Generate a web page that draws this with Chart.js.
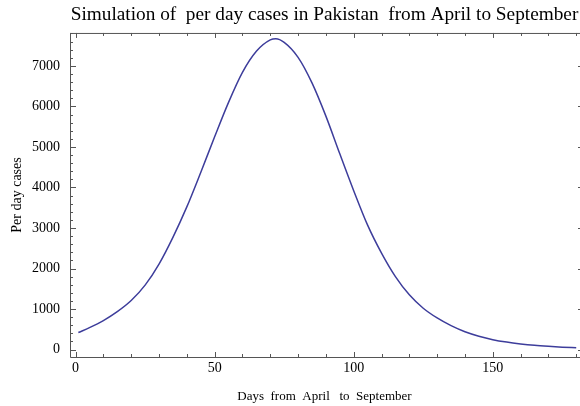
<!DOCTYPE html>
<html>
<head>
<meta charset="utf-8">
<script src="https://cdn.jsdelivr.net/npm/chart.js@4.4.0/dist/chart.umd.min.js"></script>
<style>
  html, body { margin: 0; padding: 0; background: #fff; }
  #wrap { width: 580px; height: 406px; }
</style>
</head>
<body>
<div id="wrap"><canvas id="chart" width="580" height="406"></canvas></div>
<script>
// values
const days = [1, 5, 10, 15, 20, 25, 30, 35, 40, 45, 50, 55, 60, 65, 70, 72, 75, 80, 85, 90,
  95, 100, 105, 110, 115, 120, 125, 130, 135, 140, 145, 150, 155, 160, 165, 170, 175, 180];
const cases = [420, 540, 715, 935, 1210, 1590, 2110, 2770, 3520, 4370, 5250, 6100, 6840, 7360, 7640, 7670, 7580, 7210, 6580, 5760,
  4830, 3920, 3070, 2380, 1800, 1350, 1020, 780, 590, 440, 330, 245, 185, 140, 105, 80, 60, 44];

const xTickValues = [0, 50, 100, 150];
const yTickValues = [0, 1000, 2000, 3000, 4000, 5000, 6000, 7000];
const xMinorStep = 10;
const yMinorStep = 200;

const titleText = 'Simulation of  per day cases in Pakistan  from April to September';
const xTitle = 'Days  from  April   to  September';
const yTitle = 'Per day cases';

const serif = '"Liberation Serif", "Times New Roman", serif';
const frameColor = '#555';

// mathematica style frame with ticks pointing inward
const framePlugin = {
  id: 'frame',
  afterDraw(chart) {
    const { ctx, chartArea: a } = chart;
    const { x, y } = chart.scales;
    ctx.save();
    ctx.strokeStyle = frameColor;
    ctx.lineWidth = 1;
    ctx.beginPath();
    ctx.moveTo(a.left + 0.5, a.top);
    ctx.lineTo(a.left + 0.5, a.bottom + 0.5);
    ctx.lineTo(a.right + 1, a.bottom + 0.5);
    ctx.moveTo(a.left, a.top + 0.5);
    ctx.lineTo(a.right + 1, a.top + 0.5);
    ctx.stroke();

    ctx.beginPath();
    for (let v = 0; v <= x.max; v += xMinorStep) {
      const px = Math.round(x.getPixelForValue(v)) + 0.5;
      const len = v % 50 === 0 ? 5 : 3;
      ctx.moveTo(px, a.bottom);
      ctx.lineTo(px, a.bottom - len);
      ctx.moveTo(px, a.top);
      ctx.lineTo(px, a.top + len);
    }
    for (let v = 0; v <= y.max; v += yMinorStep) {
      const py = Math.round(y.getPixelForValue(v)) + 0.5;
      ctx.moveTo(a.left, py);
      ctx.lineTo(a.left + (v % 1000 === 0 ? 6 : 3), py);
      if (v % 1000 === 0) {
        ctx.moveTo(a.right + 1, py);
        ctx.lineTo(a.right - 1, py);
      }
    }
    ctx.stroke();
    ctx.restore();
  }
};

const chart = new Chart(document.getElementById('chart'), {
  type: 'line',
  data: {
    datasets: [{
      data: days.map((d, i) => ({ x: d, y: cases[i] })),
      borderColor: '#3d3d9b',
      borderWidth: 1.5,
      pointRadius: 0,
      fill: false,
      cubicInterpolationMode: 'monotone'
    }]
  },
  options: {
    responsive: false,
    animation: false,
    devicePixelRatio: 1,
    layout: { padding: { left: 0, right: 1, top: 0, bottom: 0 } },
    plugins: {
      legend: { display: false },
      tooltip: { enabled: false },
      title: {
        display: true,
        fullSize: false,
        text: titleText,
        color: '#000',
        font: { family: serif, size: 19.3, weight: 'normal' },
        padding: { top: 3, bottom: 6.8 }
      }
    },
    scales: {
      x: {
        type: 'linear',
        min: -2,
        max: 181,
        grid: { display: false, drawTicks: false },
        border: { display: false },
        afterBuildTicks: (scale) => { scale.ticks = xTickValues.map((v) => ({ value: v })); },
        afterFit: (scale) => { scale.height = 49; },
        ticks: {
          color: '#000',
          font: { family: serif, size: 14 },
          padding: 3,
          maxRotation: 0,
          callback: (v) => String(v)
        },
        title: {
          display: true,
          text: xTitle,
          color: '#000',
          font: { family: serif, size: 13 },
          padding: { bottom: 2 }
        }
      },
      y: {
        type: 'linear',
        min: -183,
        max: 7812,
        grid: { display: false, drawTicks: false },
        border: { display: false },
        afterBuildTicks: (scale) => { scale.ticks = yTickValues.map((v) => ({ value: v })); },
        afterFit: (scale) => { scale.width = 70; },
        ticks: {
          color: '#000',
          font: { family: serif, size: 14 },
          padding: 10,
          callback: (v) => String(v)
        },
        title: {
          display: true,
          text: yTitle,
          color: '#000',
          font: { family: serif, size: 14 },
          padding: { top: 9 }
        }
      }
    }
  },
  plugins: [framePlugin]
});
</script>
</body>
</html>
